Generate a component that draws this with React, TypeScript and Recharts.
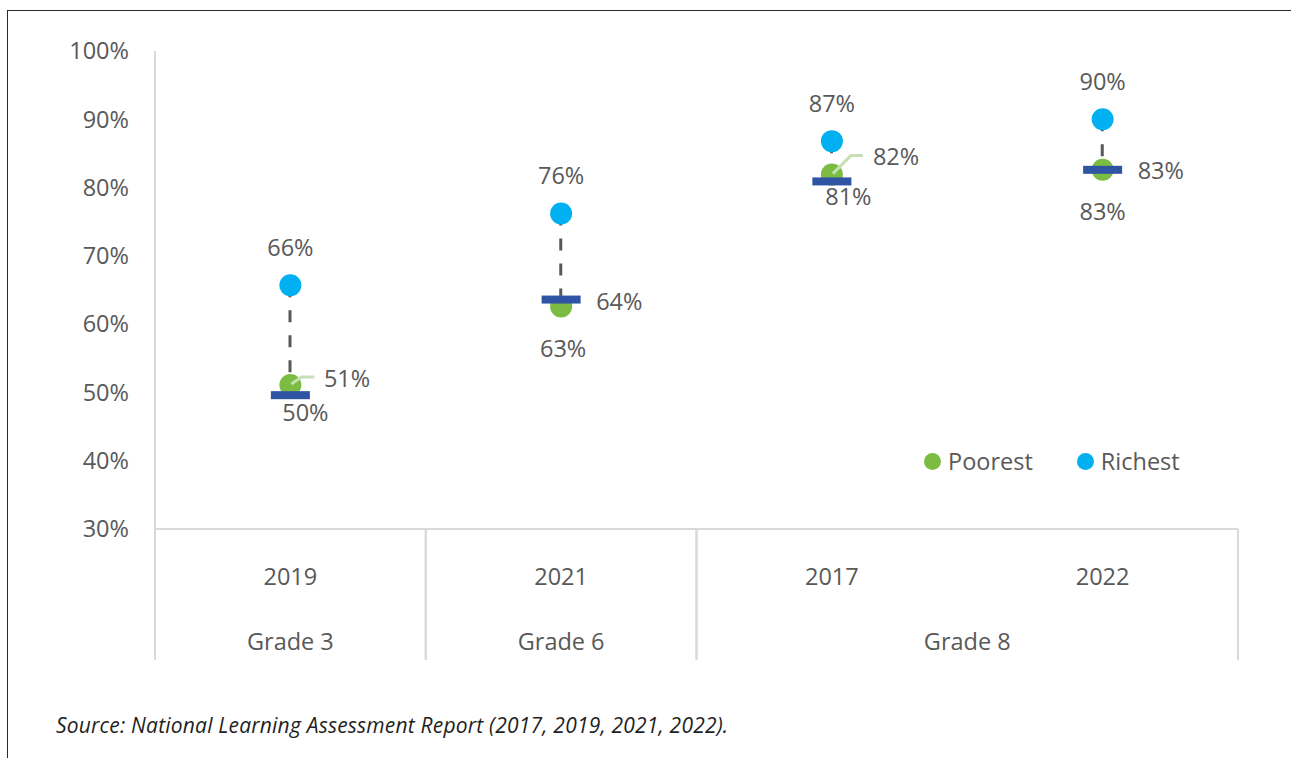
import React from "react";
import { ComposedChart, XAxis, YAxis, Line, Bar, LabelList, Legend, ReferenceArea } from "recharts";

// ---------- data ----------
const years = ["2019", "2021", "2017", "2022"];
const grades = ["Grade 3", "Grade 6", "Grade 8", "Grade 8"];
const poorest = [51.1, 62.6, 81.9, 82.6];
const richest = [65.7, 76.2, 86.8, 90.0];
const national = [49.6, 63.6, 80.9, 82.6];
const yTicks = [30, 40, 50, 60, 70, 80, 90, 100];
const seriesNames = ["Poorest", "Richest"];

const data = years.map((year, i) => ({
  year,
  grade: grades[i],
  poorest: poorest[i],
  richest: richest[i],
  marker: national[i],
  range: [poorest[i], richest[i]],
}));

// category groups (for the two-level axis)
type Group = { label: string; first: string; last: string };
const groups: Group[] = [];
grades.forEach((g, i) => {
  const lastG = groups[groups.length - 1];
  if (lastG && lastG.label === g) lastG.last = years[i];
  else groups.push({ label: g, first: years[i], last: years[i] });
});

// ---------- styles ----------
const FONT = "'Open Sans', sans-serif";
const TEXT = "#595959";
const GREEN = "#7CBC42";
const BLUE = "#00B0F0";
const NAVY = "#2F54A3";
const LEADER = "#C5E0B4";
const AXIS = "#D9D9D9";
const FS = 23.5;
const colorByName: Record<string, string> = { Poorest: GREEN, Richest: BLUE };

type Spec = { dx: number; dy: number; anchor: "start" | "middle" | "end"; leader?: number[][] };
const richestLabel: Spec[] = years.map(() => ({ dx: 0, dy: -38, anchor: "middle" }));
const poorestLabel: Spec[] = [
  { dx: 33.5, dy: -6, anchor: "start", leader: [[1, -1], [11, -8], [24, -8]] },
  { dx: 2, dy: 42, anchor: "middle" },
  { dx: 41, dy: -18, anchor: "start", leader: [[1, -1], [19, -19], [31, -19]] },
  { dx: 0, dy: 41.5, anchor: "middle" },
];
const markerLabel: Spec[] = [
  { dx: 15, dy: 17, anchor: "middle" },
  { dx: 35, dy: 2, anchor: "start" },
  { dx: 16.5, dy: 15.5, anchor: "middle" },
  { dx: 35, dy: 1, anchor: "start" },
];

const makeLabel = (specs: Spec[]) => (props: any) => {
  const { value, index } = props;
  const vb = props.viewBox || {};
  const x = props.x ?? (vb.x != null ? vb.x + (vb.width || 0) / 2 : undefined);
  const y = props.y ?? (vb.y != null ? vb.y + (vb.height || 0) / 2 : undefined);
  const s = specs[index];
  if (!s || x == null || y == null) return null;
  return (
    <g>
      {s.leader && (
        <polyline
          points={s.leader.map(([a, b]) => `${x + a},${y + b}`).join(" ")}
          fill="none"
          stroke={LEADER}
          strokeWidth={3}
        />
      )}
      <text
        x={x + s.dx}
        y={y + s.dy}
        dy="0.36em"
        textAnchor={s.anchor}
        fontFamily={FONT}
        fontSize={FS}
        fill={TEXT}
      >
        {Math.round(Number(value))}%
      </text>
    </g>
  );
};

const circleDot = (color: string) => (p: any) =>
  p.cx == null ? <g key={p.index} /> : <circle key={p.index} cx={p.cx} cy={p.cy} r={11} fill={color} />;

const markerDot = (p: any) =>
  p.cx == null ? (
    <g key={p.index} />
  ) : (
    <rect key={p.index} x={p.cx - 19.5} y={p.cy - 4} width={39} height={8} fill={NAVY} />
  );

const DashShape = (p: any) => {
  const { x, y, width, height } = p;
  if (x == null || y == null) return <g />;
  const cx = x + width / 2;
  const y1 = Math.min(y, y + height);
  const y2 = Math.max(y, y + height);
  return <line x1={cx} x2={cx} y1={y1} y2={y2} stroke="#595959" strokeWidth={3} strokeDasharray="12 13" />;
};

// group box below the axis: separators on both sides and the group label in the middle
const SEP_LEN = 131;
const makeGroupShape = (label: string) => (p: any) => {
  const { x, y, width, height } = p;
  if (x == null || y == null) return <g />;
  const base = Math.max(y, y + height);
  return (
    <g>
      <line x1={x} x2={x} y1={base} y2={base + SEP_LEN} stroke={AXIS} strokeWidth={2} />
      <line x1={x + width} x2={x + width} y1={base} y2={base + SEP_LEN} stroke={AXIS} strokeWidth={2} />
      <text
        x={x + width / 2}
        y={base + 113}
        dy="0.36em"
        textAnchor="middle"
        fontFamily={FONT}
        fontSize={FS}
        fill={TEXT}
      >
        {label}
      </text>
    </g>
  );
};

const tickStyle = { fontSize: FS, fill: TEXT, fontFamily: FONT };

const LegendContent = (props: any) => {
  const items = (props.payload || [])
    .map((e: any) => String(e.value))
    .filter((v: string) => seriesNames.includes(v));
  const list = items.length ? items : seriesNames;
  return (
    <div style={{ display: "flex", alignItems: "center", height: 30, fontFamily: FONT, fontSize: FS, color: TEXT }}>
      {list.map((name: string, i: number) => (
        <div key={name} style={{ display: "flex", alignItems: "center", marginRight: i === 0 ? 44 : 0 }}>
          <span
            style={{
              display: "inline-block",
              width: 17,
              height: 17,
              borderRadius: "50%",
              background: colorByName[name],
              marginRight: 7,
            }}
          />
          <span style={{ whiteSpace: "nowrap" }}>{name}</span>
        </div>
      ))}
    </div>
  );
};

export default function App() {
  return (
    <div style={{ position: "absolute", left: 0, top: 0, width: 1291, height: 758, background: "#fff" }}>
      <div
        style={{
          position: "absolute",
          left: 7,
          top: 10,
          width: 1284,
          height: 748,
          borderTop: "1px solid #2a2a2a",
          borderLeft: "1px solid #2a2a2a",
          boxSizing: "border-box",
        }}
      />
      <div style={{ position: "absolute", left: 0, top: 0 }}>
        <ComposedChart width={1291} height={758} data={data} margin={{ top: 51, right: 53, bottom: 228, left: 95 }}>
          <XAxis
            xAxisId="yr"
            dataKey="year"
            type="category"
            height={1}
            interval={0}
            axisLine={{ stroke: AXIS, strokeWidth: 2 }}
            tickLine={false}
            tickSize={0}
            tickMargin={39}
            tick={tickStyle}
          />
          <YAxis
            width={60}
            domain={[30, 100]}
            ticks={yTicks}
            interval={0}
            axisLine={{ stroke: AXIS, strokeWidth: 2 }}
            tickLine={false}
            tickSize={0}
            tickMargin={26}
            tick={tickStyle}
            tickFormatter={(v: number) => `${v}%`}
          />
          {groups.map((g) => (
            <ReferenceArea
              key={g.label}
              xAxisId="yr"
              x1={g.first}
              x2={g.last}
              y1={30}
              y2={100}
              ifOverflow="visible"
              shape={makeGroupShape(g.label)}
            />
          ))}
          <Bar
            xAxisId="yr"
            dataKey="range"
            barSize={10}
            legendType="none"
            isAnimationActive={false}
            shape={DashShape}
          />
          <Line
            xAxisId="yr"
            dataKey="poorest"
            name="Poorest"
            stroke="none"
            dot={circleDot(GREEN)}
            activeDot={false}
            isAnimationActive={false}
          >
            <LabelList dataKey="poorest" content={makeLabel(poorestLabel)} />
          </Line>
          <Line
            xAxisId="yr"
            dataKey="richest"
            name="Richest"
            stroke="none"
            dot={circleDot(BLUE)}
            activeDot={false}
            isAnimationActive={false}
          >
            <LabelList dataKey="richest" content={makeLabel(richestLabel)} />
          </Line>
          <Line
            xAxisId="yr"
            dataKey="marker"
            name="National"
            stroke="none"
            legendType="none"
            dot={markerDot}
            activeDot={false}
            isAnimationActive={false}
          >
            <LabelList dataKey="marker" content={makeLabel(markerLabel)} />
          </Line>
          <Legend
            layout="horizontal"
            verticalAlign="middle"
            align="center"
            wrapperStyle={{ left: 924, top: 446, width: 330, height: 30 }}
            content={LegendContent}
          />
        </ComposedChart>
      </div>
      <div
        style={{
          position: "absolute",
          left: 56,
          top: 711,
          fontFamily: FONT,
          fontStyle: "italic",
          fontSize: 21,
          letterSpacing: 0.2,
          color: "#1F1F1F",
          whiteSpace: "nowrap",
        }}
      >
        Source: National Learning Assessment Report (2017, 2019, 2021, 2022).
      </div>
    </div>
  );
}
